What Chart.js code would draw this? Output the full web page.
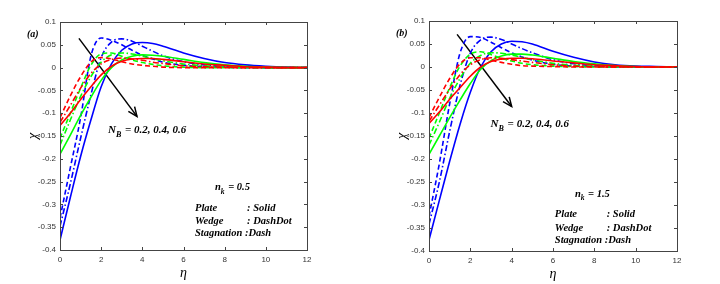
<!DOCTYPE html>
<html>
<head>
<meta charset="utf-8">
<script src="https://cdn.jsdelivr.net/npm/chart.js@4.4.1/dist/chart.umd.min.js"></script>
<style>
    html, body { margin: 0; padding: 0; background: #fff; }
    #wrap { position: relative; width: 720px; height: 284px; }
    canvas { position: absolute; top: 0; }
</style>
</head>
<body>
<div id="wrap">
    <canvas id="panelA" width="360" height="284" style="left:0"></canvas>
    <canvas id="panelB" width="360" height="284" style="left:360px"></canvas>
</div>
<script>
// eta grid shared by every curve
const ETA = [0, 0.5, 1, 1.5, 2, 2.5, 3, 3.5, 4, 4.5, 5, 6, 7, 8, 9, 10, 11, 12];

// panel (a), n_k = 0.5  (blue N_B=0.2, green 0.4, red 0.6)
const A_BLUE_PLATE  = [-0.378, -0.285, -0.195, -0.115, -0.042, 0.008, 0.038, 0.052, 0.055, 0.053, 0.047, 0.032, 0.020, 0.011, 0.006, 0.003, 0.001, 0];
const A_BLUE_WEDGE  = [-0.348, -0.255, -0.155, -0.060, 0.022, 0.056, 0.063, 0.058, 0.047, 0.036, 0.026, 0.013, 0.006, 0.002, 0.001, 0, 0, 0];
const A_BLUE_STAG   = [-0.330, -0.220, -0.110, 0.025, 0.065, 0.060, 0.050, 0.038, 0.027, 0.019, 0.012, 0.005, 0.002, 0.001, 0, 0, 0, 0];
const A_GREEN_PLATE = [-0.190, -0.148, -0.105, -0.065, -0.028, 0, 0.017, 0.025, 0.028, 0.027, 0.025, 0.018, 0.011, 0.006, 0.003, 0.001, 0, 0];
const A_GREEN_WEDGE = [-0.170, -0.115, -0.063, -0.020, 0.012, 0.028, 0.032, 0.030, 0.025, 0.020, 0.015, 0.008, 0.004, 0.002, 0.001, 0, 0, 0];
const A_GREEN_STAG  = [-0.155, -0.100, -0.045, 0.005, 0.030, 0.032, 0.025, 0.017, 0.011, 0.007, 0.004, 0.001, 0, 0, 0, 0, 0, 0];
const A_RED_PLATE   = [-0.127, -0.100, -0.070, -0.042, -0.016, 0.003, 0.014, 0.019, 0.020, 0.020, 0.018, 0.013, 0.008, 0.005, 0.002, 0.001, 0, 0];
const A_RED_WEDGE   = [-0.120, -0.083, -0.045, -0.013, 0.008, 0.018, 0.021, 0.019, 0.016, 0.012, 0.009, 0.004, 0.002, 0.001, 0, 0, 0, 0];
const A_RED_STAG    = [-0.110, -0.062, -0.020, 0.012, 0.022, 0.019, 0.013, 0.008, 0.005, 0.003, 0.001, 0, 0, 0, 0, 0, 0, 0];

// panel (b), n_k = 1.5
const B_BLUE_PLATE  = [-0.376, -0.290, -0.205, -0.125, -0.055, 0, 0.033, 0.050, 0.056, 0.055, 0.050, 0.034, 0.021, 0.011, 0.005, 0.002, 0.001, 0];
const B_BLUE_WEDGE  = [-0.342, -0.250, -0.140, -0.040, 0.030, 0.059, 0.065, 0.060, 0.050, 0.040, 0.031, 0.016, 0.007, 0.003, 0.001, 0, 0, 0];
const B_BLUE_STAG   = [-0.325, -0.210, -0.080, 0.030, 0.066, 0.064, 0.054, 0.042, 0.031, 0.022, 0.015, 0.006, 0.002, 0.001, 0, 0, 0, 0];
const B_GREEN_PLATE = [-0.190, -0.150, -0.110, -0.072, -0.036, -0.005, 0.014, 0.024, 0.028, 0.028, 0.026, 0.019, 0.012, 0.007, 0.003, 0.001, 0, 0];
const B_GREEN_WEDGE = [-0.170, -0.120, -0.068, -0.025, 0.008, 0.025, 0.031, 0.030, 0.026, 0.021, 0.016, 0.008, 0.004, 0.002, 0.001, 0, 0, 0];
const B_GREEN_STAG  = [-0.155, -0.100, -0.045, 0.002, 0.028, 0.033, 0.027, 0.019, 0.013, 0.008, 0.005, 0.002, 0.001, 0, 0, 0, 0, 0];
const B_RED_PLATE   = [-0.123, -0.098, -0.070, -0.045, -0.020, 0, 0.012, 0.017, 0.019, 0.019, 0.018, 0.013, 0.009, 0.005, 0.003, 0.001, 0, 0];
const B_RED_WEDGE   = [-0.118, -0.083, -0.048, -0.017, 0.005, 0.016, 0.020, 0.019, 0.016, 0.013, 0.010, 0.005, 0.002, 0.001, 0, 0, 0, 0];
const B_RED_STAG    = [-0.110, -0.066, -0.025, 0.007, 0.020, 0.020, 0.015, 0.010, 0.006, 0.003, 0.002, 0.001, 0, 0, 0, 0, 0, 0];

// arrow showing increasing N_B (eta, chi)
const A_ARROW_X = [0.92, 3.74];
const A_ARROW_Y = [0.064, -0.107];
const B_ARROW_X = [1.36, 4.0];
const B_ARROW_Y = [0.071, -0.086];

const X_TICKS = [0, 2, 4, 6, 8, 10, 12];
const Y_TICKS = [0.1, 0.05, 0, -0.05, -0.1, -0.15, -0.2, -0.25, -0.3, -0.35, -0.4];

const BLUE = '#0000ff', GREEN = '#00ff00', RED = '#ff0000';
const DASH = [5, 3];
const DASHDOT = [6, 2.5, 1.5, 2.5];

function pts(xs, ys) {
    return xs.map((x, i) => ({ x: x, y: ys[i] }));
}

function curve(ys, color, dash) {
    return {
        data: pts(ETA, ys),
        borderColor: color,
        borderWidth: 1.6,
        borderDash: dash,
        pointRadius: 0,
        cubicInterpolationMode: 'monotone',
        fill: false
    };
}

// frame with inward ticks on all sides, labels and the arrow head
const framePlugin = {
    id: 'frame',
    afterDraw(chart, args, o) {
        const ctx = chart.ctx;
        const a = chart.chartArea;
        const xs = chart.scales.x, ys = chart.scales.y;
        ctx.save();
        ctx.strokeStyle = '#444';
        ctx.lineWidth = 1;
        ctx.strokeRect(a.left + 0.5, a.top + 0.5, a.right - a.left, a.bottom - a.top);
        ctx.beginPath();
        X_TICKS.forEach(t => {
            const px = Math.round(xs.getPixelForValue(t)) + 0.5;
            ctx.moveTo(px, a.bottom); ctx.lineTo(px, a.bottom - 3);
            ctx.moveTo(px, a.top); ctx.lineTo(px, a.top + 3);
        });
        Y_TICKS.forEach(t => {
            const py = Math.round(ys.getPixelForValue(t)) + 0.5;
            ctx.moveTo(a.left, py); ctx.lineTo(a.left + 3, py);
            ctx.moveTo(a.right, py); ctx.lineTo(a.right - 3, py);
        });
        ctx.stroke();

        // arrow head
        const x0 = xs.getPixelForValue(o.arrowX[0]), y0 = ys.getPixelForValue(o.arrowY[0]);
        const x1 = xs.getPixelForValue(o.arrowX[1]), y1 = ys.getPixelForValue(o.arrowY[1]);
        const ang = Math.atan2(y1 - y0, x1 - x0);
        ctx.strokeStyle = '#000';
        ctx.lineWidth = 1.5;
        ctx.beginPath();
        ctx.moveTo(x1 - 10 * Math.cos(ang - 0.4), y1 - 10 * Math.sin(ang - 0.4));
        ctx.lineTo(x1, y1);
        ctx.lineTo(x1 - 10 * Math.cos(ang + 0.4), y1 - 10 * Math.sin(ang + 0.4));
        ctx.stroke();

        ctx.fillStyle = '#000';
        ctx.textBaseline = 'alphabetic';
        const serif = '"Liberation Serif", "Times New Roman", serif';

        // panel tag
        ctx.font = 'italic bold 10px ' + serif;
        ctx.textAlign = 'left';
        ctx.fillText(o.tag, a.left - 33, a.top + 15);

        // N_B label
        let px = xs.getPixelForValue(o.nbPos[0]), py = ys.getPixelForValue(o.nbPos[1]);
        ctx.font = 'italic bold 11px ' + serif;
        ctx.fillText('N', px, py);
        let w = ctx.measureText('N').width;
        ctx.font = 'italic bold 8px ' + serif;
        ctx.fillText('B', px + w, py + 4);
        w += ctx.measureText('B').width + 1;
        ctx.font = 'italic bold 11px ' + serif;
        ctx.fillText(' = 0.2, 0.4, 0.6', px + w, py);

        // n_k label
        px = xs.getPixelForValue(o.nkPos[0]); py = ys.getPixelForValue(o.nkPos[1]);
        ctx.font = 'italic bold 10.5px ' + serif;
        ctx.fillText('n', px, py);
        w = ctx.measureText('n').width;
        ctx.font = 'italic bold 7.5px ' + serif;
        ctx.fillText('k', px + w, py + 3.5);
        w += ctx.measureText('k').width + 1;
        ctx.font = 'italic bold 10.5px ' + serif;
        ctx.fillText(' = ' + o.nk, px + w, py);

        // line style key
        ctx.font = 'italic bold 10.5px ' + serif;
        const kx = xs.getPixelForValue(o.keyX[0]), kx2 = xs.getPixelForValue(o.keyX[1]);
        const rows = [['Plate', ': Solid'], ['Wedge', ': DashDot']];
        rows.forEach((r, i) => {
            const ry = ys.getPixelForValue(o.keyY[i]);
            ctx.fillText(r[0], kx, ry);
            ctx.fillText(r[1], kx2, ry);
        });
        ctx.fillText('Stagnation :Dash', kx, ys.getPixelForValue(o.keyY[2]));

        // axis titles
        ctx.font = 'italic 14px ' + serif;
        ctx.textAlign = 'center';
        ctx.fillText('\u03b7', (a.left + a.right) / 2, a.bottom + 27);
        ctx.save();
        ctx.translate(a.left - 27, (a.top + a.bottom) / 2);
        ctx.rotate(-Math.PI / 2);
        ctx.fillText('\u03c7', 0, 4);
        ctx.restore();
        ctx.restore();
    }
};

function makePanel(id, series, cfg) {
    const datasets = [
        curve(series[6], RED, []),
        curve(series[7], RED, DASHDOT),
        curve(series[8], RED, DASH),
        curve(series[3], GREEN, []),
        curve(series[4], GREEN, DASHDOT),
        curve(series[5], GREEN, DASH),
        curve(series[0], BLUE, []),
        curve(series[1], BLUE, DASHDOT),
        curve(series[2], BLUE, DASH),
        {
            data: pts(cfg.arrowX, cfg.arrowY),
            borderColor: '#000',
            borderWidth: 1.5,
            pointRadius: 0,
            fill: false
        }
    ];
    const tickFont = { family: '"Liberation Sans", Arial, sans-serif', size: 8 };
    new Chart(document.getElementById(id), {
        type: 'line',
        data: { datasets: datasets },
        plugins: [framePlugin],
        options: {
            responsive: false,
            animation: false,
            layout: { padding: { top: cfg.top, right: cfg.right, bottom: 0, left: 0 } },
            plugins: {
                legend: { display: false },
                tooltip: { enabled: false },
                frame: cfg
            },
            scales: {
                x: {
                    type: 'linear',
                    min: 0, max: 12,
                    afterFit: s => { s.height = cfg.xh; },
                    afterBuildTicks: s => { s.ticks = X_TICKS.map(v => ({ value: v })); },
                    grid: { display: false, drawTicks: false },
                    border: { display: false },
                    ticks: { font: tickFont, color: '#333', padding: 5, maxRotation: 0, callback: v => String(v) }
                },
                y: {
                    type: 'linear',
                    min: -0.4, max: 0.1,
                    afterFit: s => { s.width = cfg.yw; },
                    afterBuildTicks: s => { s.ticks = Y_TICKS.map(v => ({ value: v })); },
                    grid: { display: false, drawTicks: false },
                    border: { display: false },
                    ticks: { font: tickFont, color: '#333', padding: 4, callback: v => String(Math.round(v * 100) / 100) }
                }
            }
        }
    });
}

makePanel('panelA',
    [A_BLUE_PLATE, A_BLUE_WEDGE, A_BLUE_STAG, A_GREEN_PLATE, A_GREEN_WEDGE, A_GREEN_STAG, A_RED_PLATE, A_RED_WEDGE, A_RED_STAG],
    {
        top: 22, right: 53, xh: 34, yw: 60,
        tag: '(a)', nk: '0.5',
        arrowX: A_ARROW_X, arrowY: A_ARROW_Y,
        nbPos: [2.33, -0.1425], nkPos: [7.53, -0.269],
        keyX: [6.56, 9.09], keyY: [-0.315, -0.343, -0.370]
    });

makePanel('panelB',
    [B_BLUE_PLATE, B_BLUE_WEDGE, B_BLUE_STAG, B_GREEN_PLATE, B_GREEN_WEDGE, B_GREEN_STAG, B_RED_PLATE, B_RED_WEDGE, B_RED_STAG],
    {
        top: 21, right: 43, xh: 33, yw: 69,
        tag: '(b)', nk: '1.5',
        arrowX: B_ARROW_X, arrowY: B_ARROW_Y,
        nbPos: [2.98, -0.131], nkPos: [7.06, -0.282],
        keyX: [6.09, 8.6], keyY: [-0.327, -0.356, -0.383]
    });
</script>
</body>
</html>
